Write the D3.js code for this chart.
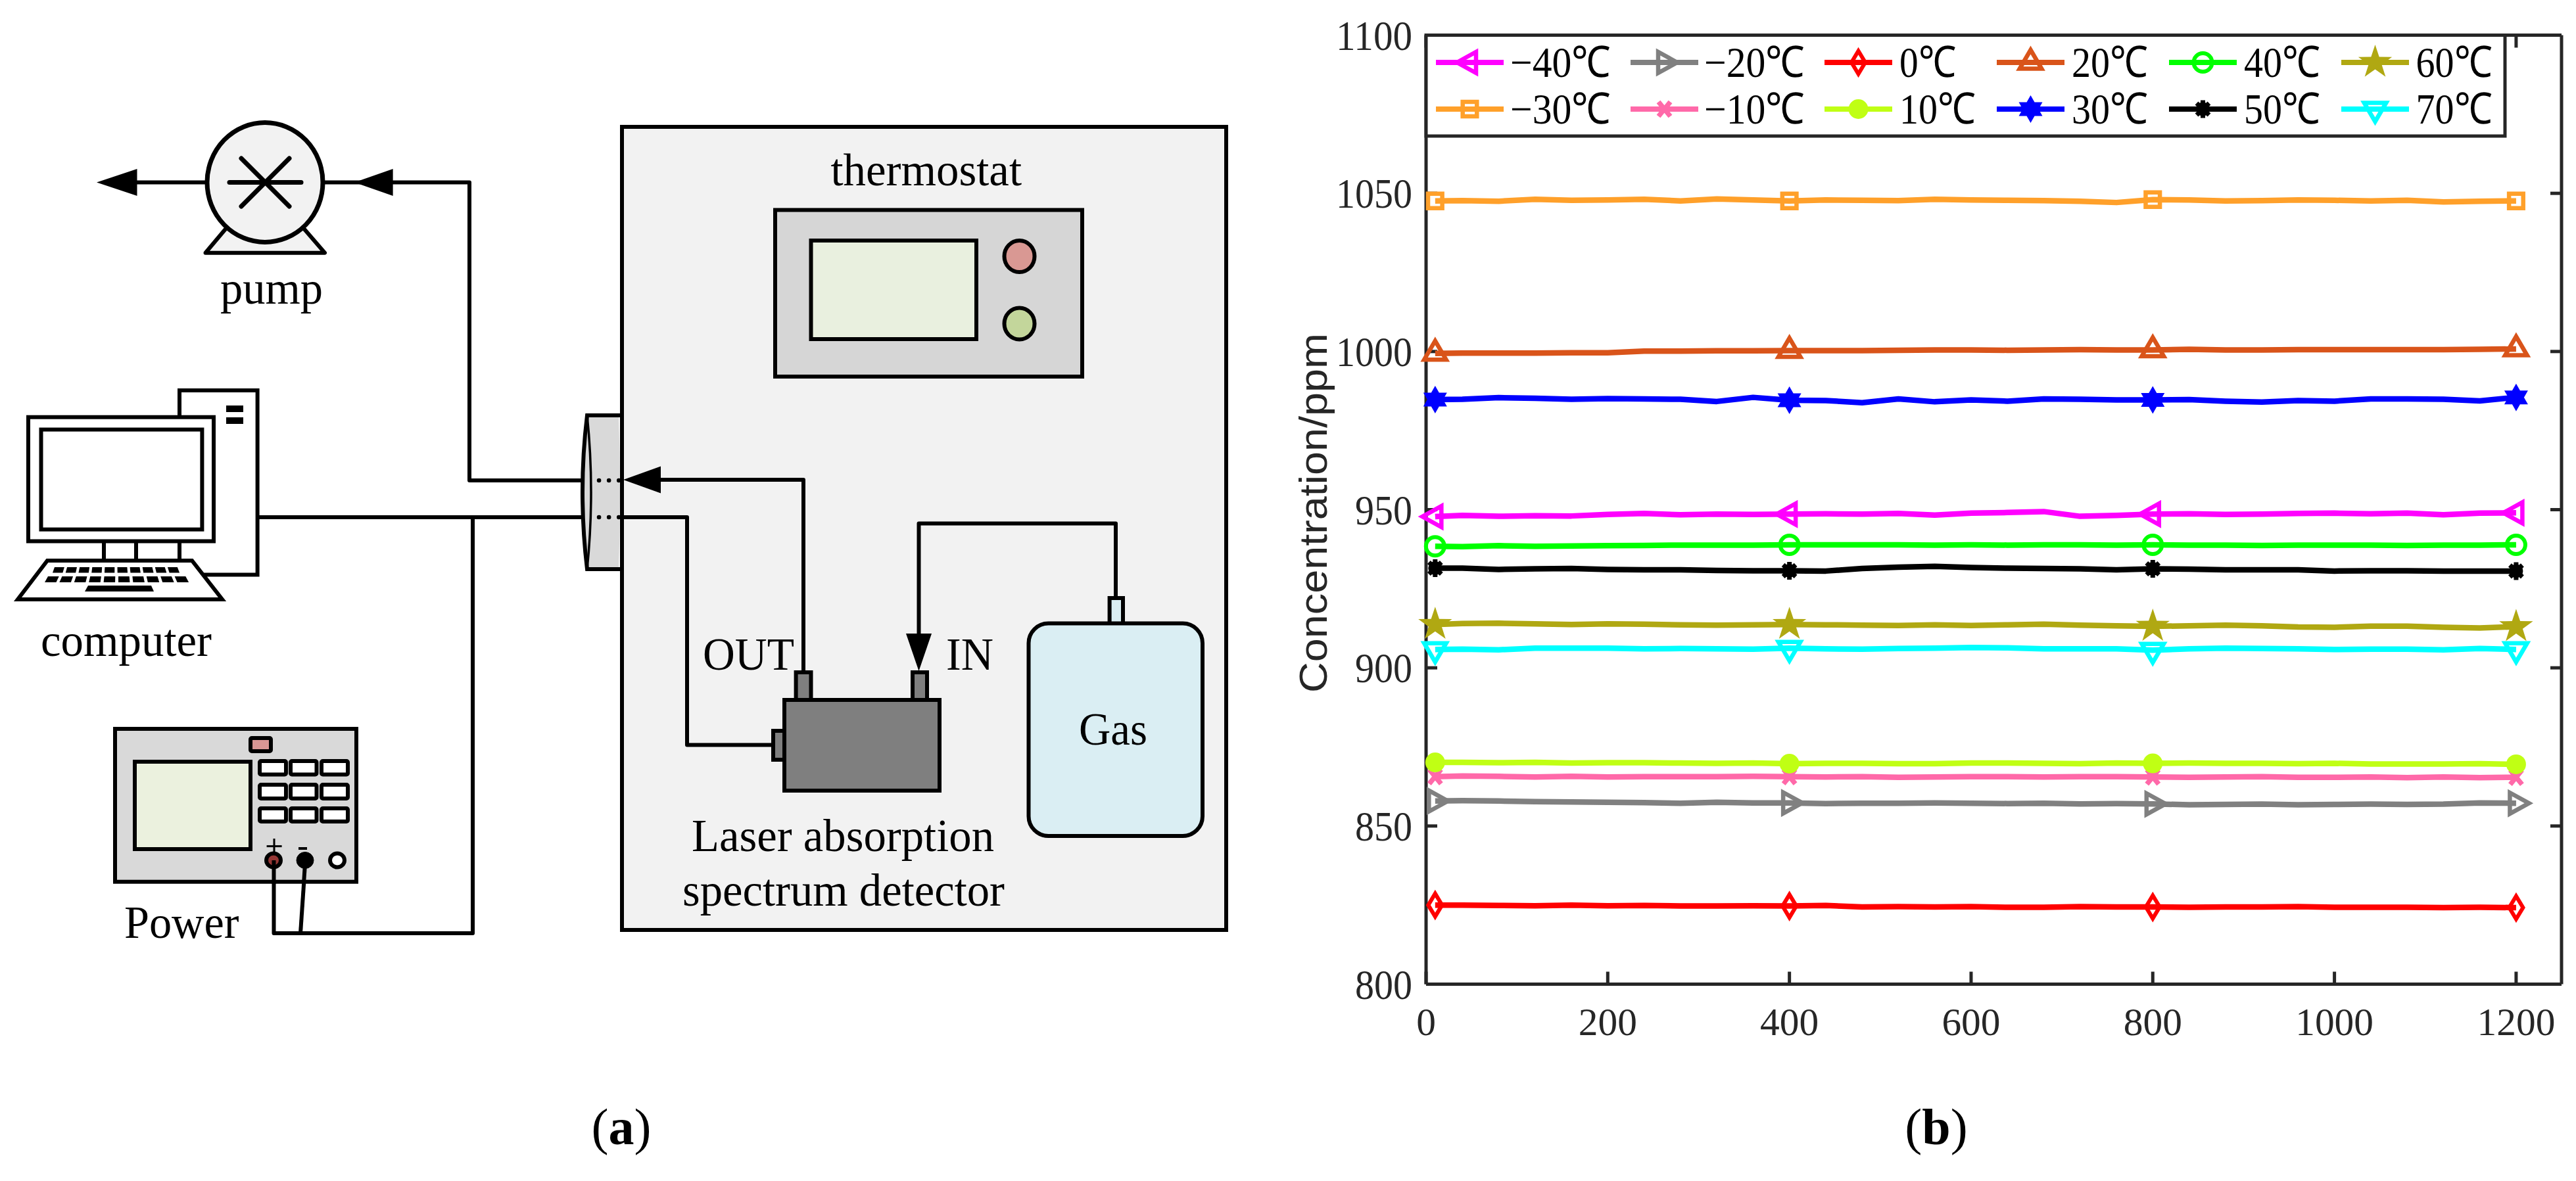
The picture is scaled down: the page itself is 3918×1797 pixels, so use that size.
<!DOCTYPE html>
<html><head><meta charset="utf-8">
<script src="https://cdn.jsdelivr.net/npm/d3@7/dist/d3.min.js"></script>
<style>html,body{margin:0;padding:0;background:#fff}svg{display:block}text{font-family:"Liberation Serif",serif}</style>
</head><body><svg id="c" width="3918" height="1797"></svg>
<script>
const times=[10,40,80,120,160,200,240,280,320,360,400,440,480,520,560,600,640,680,720,760,800,840,880,920,960,1000,1040,1080,1120,1160,1200];
const markerTimes=[10,400,800,1200];
const xTicks=[0,200,400,600,800,1000,1200];
const yTicks=[800,850,900,950,1000,1050,1100];
const labels=["−40℃","−30℃","−20℃","−10℃","0℃","10℃","20℃","30℃","40℃","50℃","60℃","70℃"];
const colors=["#ff00ff","#ffa02a","#808080","#ff69a9","#ff0000","#c0ff14","#d9541a","#0000ff","#00ff00","#000000","#b0a812","#00ffff"];
const markers=["left","square","right","cross","diamond","dot","up","hex","ring","aster","star","down"];
const sM40=[947.8,948.2,947.9,948.1,948.0,948.5,948.8,948.4,948.6,948.5,948.6,948.7,948.6,948.8,948.3,948.9,949.1,949.4,947.9,948.2,948.6,948.7,948.5,948.6,948.8,948.9,948.7,948.9,948.4,948.9,949.0];
const sM30=[1047.6,1047.7,1047.5,1048.1,1047.8,1047.9,1048.1,1047.6,1048.2,1047.9,1047.6,1047.9,1047.8,1047.7,1048.1,1047.9,1047.8,1047.7,1047.5,1047.1,1048.0,1047.9,1047.6,1047.7,1047.9,1047.8,1047.6,1047.8,1047.3,1047.5,1047.6];
const sM20=[857.9,858.0,857.9,857.7,857.6,857.5,857.4,857.2,857.5,857.3,857.3,857.1,857.2,857.2,857.3,857.2,857.1,857.2,857.0,857.1,857.0,856.7,856.8,856.9,856.7,856.8,856.9,856.8,856.9,857.3,857.2];
const sM10=[865.6,865.8,865.7,865.5,865.7,865.5,865.6,865.6,865.6,865.7,865.6,865.5,865.6,865.4,865.5,865.6,865.6,865.5,865.6,865.6,865.5,865.4,865.5,865.6,865.4,865.4,865.5,865.3,865.5,865.3,865.4];
const s0=[825.0,825.0,824.9,824.8,825.0,824.8,824.9,824.7,824.7,824.8,824.7,824.9,824.4,824.5,824.4,824.5,824.3,824.3,824.5,824.4,824.4,824.3,824.4,824.4,824.5,824.3,824.3,824.3,824.2,824.3,824.2];
const s10=[870.1,870.1,870.0,870.1,869.9,870.0,870.0,869.9,869.8,869.9,869.7,869.8,869.8,869.7,869.7,869.9,869.9,869.8,869.7,869.9,869.8,869.9,869.8,869.8,869.7,869.8,869.6,869.6,869.6,869.7,869.5];
const s20=[999.4,999.5,999.5,999.5,999.6,999.6,1000.1,1000.1,1000.2,1000.2,1000.3,1000.3,1000.3,1000.4,1000.5,1000.5,1000.4,1000.5,1000.6,1000.5,1000.5,1000.7,1000.5,1000.5,1000.6,1000.6,1000.6,1000.6,1000.6,1000.7,1000.8];
const s30=[984.8,984.9,985.4,985.2,984.9,985.1,985.0,984.9,984.2,985.5,984.6,984.5,983.8,985.0,984.1,984.7,984.3,985.0,984.9,984.7,984.7,984.8,984.3,984.0,984.5,984.3,985.0,985.0,984.9,984.4,985.5];
const s40=[938.4,938.3,938.6,938.4,938.5,938.6,938.7,938.8,938.8,938.8,938.9,938.9,938.9,938.9,938.8,938.9,938.8,938.9,938.9,938.8,938.9,938.8,938.8,938.7,938.8,938.8,938.8,938.7,938.8,938.8,938.9];
const s50=[931.5,931.5,931.1,931.3,931.4,931.1,931.0,931.0,930.8,930.7,930.7,930.6,931.4,931.8,932.1,931.7,931.5,931.4,931.3,931.0,931.3,931.2,931.0,931.0,931.0,930.6,930.7,930.7,930.6,930.6,930.6];
const s60=[913.7,914.0,914.1,913.9,913.7,913.9,913.8,913.6,913.5,913.6,913.7,913.6,913.5,913.4,913.6,913.4,913.6,913.8,913.5,913.3,913.1,913.3,913.5,913.3,912.9,912.8,913.2,913.2,912.8,912.6,913.0];
const s70=[905.8,905.9,905.7,906.2,906.2,906.2,906.0,906.1,906.0,905.9,906.2,906.0,905.9,906.1,906.2,906.4,906.3,906.0,906.0,906.0,905.6,906.0,906.2,906.1,906.0,905.8,905.9,905.9,905.7,906.1,905.8];
const seriesValues=[sM40,sM30,sM20,sM10,s0,s10,s20,s30,s40,s50,s60,s70];

const svg=d3.select("#c");
const ink="#000";
const W=6;
function rect(g,x0,y0,x1,y1,fill,r,sw){return g.append("rect").attr("x",x0).attr("y",y0).attr("width",x1-x0).attr("height",y1-y0).attr("rx",r||0).attr("fill",fill).attr("stroke",ink).attr("stroke-width",sw||W);}
function pl(g,pts,sw){return g.append("path").attr("d",d3.line()(pts)).attr("fill","none").attr("stroke",ink).attr("stroke-width",sw||W).attr("stroke-linejoin","round");}
function tri(g,pts){g.append("path").attr("d",d3.line()(pts)+"Z").attr("fill",ink);}
function ell(g,cx,cy,rx,ry,fill,sw){return g.append("ellipse").attr("cx",cx).attr("cy",cy).attr("rx",rx).attr("ry",ry).attr("fill",fill).attr("stroke",ink).attr("stroke-width",sw==null?W:sw);}
function txt(g,s,x,y,w,size){const t=g.append("text").attr("x",x).attr("y",y).attr("font-size",size||70).attr("fill","#000").text(s);if(w)t.attr("textLength",w).attr("lengthAdjust","spacingAndGlyphs");return t;}

/* ---------- panel (a) ---------- */
const a=svg.append("g");
// pump
a.append("path").attr("d","M312.5,384.7L347.6,343L458,343L494,384.7Z").attr("fill","#f2f2f2").attr("stroke",ink).attr("stroke-width",W).attr("stroke-linejoin","round");
ell(a,403,277.5,88,91,"#f2f2f2",7);
pl(a,[[349,277.5],[458,277.5]],7).attr("stroke-linecap","round");
pl(a,[[367,241],[440,314]],7).attr("stroke-linecap","round");
pl(a,[[440,241],[367,314]],7).attr("stroke-linecap","round");
pl(a,[[205,277.5],[315,277.5]]);
tri(a,[[147,277.5],[208.5,257],[208.5,298]]);
pl(a,[[491,277.5],[714,277.5],[714,731],[909,731]]);
tri(a,[[539,277.5],[597.6,257],[597.6,298]]);
txt(a,"pump",335,462,156);
// computer tower and monitor
rect(a,273,594,391.6,874.5,"#fff");
a.append("rect").attr("x",344).attr("y",617).attr("width",26).attr("height",10);
a.append("rect").attr("x",344).attr("y",635).attr("width",26).attr("height",10);
rect(a,43,634.7,325,823.5,"#fff");
rect(a,62.5,653.6,307.4,805.6,"#fff");
[158,207,273].forEach(x=>pl(a,[[x,823.5],[x,853]]));
a.append("path").attr("d","M72,853L292,853L338,912L27,912Z").attr("fill","#fff").attr("stroke",ink).attr("stroke-width",W).attr("stroke-linejoin","miter");
const keyRows=[[863,871.5,83,274,80,277.4],[877,886,73,287,68,292]];
keyRows.forEach(([y0,y1,t0,t1,b0,b1])=>{d3.range(10).forEach(i=>{const f=(o,l)=>o+(l-o)*i/10,g=(o,l)=>o+(l-o)*(i+.78)/10;
a.append("path").attr("d",`M${f(t0,t1)},${y0}L${g(t0,t1)},${y0}L${g(b0,b1)},${y1}L${f(b0,b1)},${y1}Z`).attr("fill",ink);});});
a.append("path").attr("d","M134,891L230,891L234,900L129,900Z").attr("fill",ink);
txt(a,"computer",62,997.5,260);
// cables from computer
pl(a,[[391,787],[909,787]]);
pl(a,[[719,787],[719,1420],[416.5,1420],[416.5,1309]]);
pl(a,[[457,1420],[463.6,1323]]);
// power
rect(a,175,1109,542,1341.7,"#d9d9d9");
rect(a,205,1159,381,1292,"#ebf1de");
rect(a,381,1123,412,1143,"#d99694",2);
[[395,435],[442,481.5],[489,529]].forEach(([x0,x1])=>[[1158,1178.5],[1194,1215],[1230,1250]].forEach(([y0,y1])=>rect(a,x0,y0,x1,y1,"#fff",2)));
ell(a,416,1309,11,10.5,"#953735");
ell(a,464,1309,13,12.5,ink,1);
ell(a,513,1309,11,10.5,"#fff");
pl(a,[[405.6,1287.6],[428.6,1287.6]],3);pl(a,[[417,1276],[417,1298]],3);
pl(a,[[454,1291],[467,1291]],4);
pl(a,[[416.5,1309],[416.5,1345]]);pl(a,[[463.6,1320],[462,1345]]);
txt(a,"Power",189,1426.5,174.5);
// flange
a.append("path").attr("d","M893,632L941,632Q945,748 941,866L893,866Q879,748 893,632Z").attr("fill","#d9d9d9");
a.append("path").attr("d","M946,632L893,632Q879,748 893,866L946,866").attr("fill","none").attr("stroke",ink).attr("stroke-width",W);
a.append("path").attr("d","M893,632Q905,748 893,866").attr("fill","none").attr("stroke",ink).attr("stroke-width",3.5);
[731,787].forEach(y=>a.append("line").attr("x1",911).attr("x2",946).attr("y1",y).attr("y2",y).attr("stroke",ink).attr("stroke-width",6.5).attr("stroke-linecap","round").attr("stroke-dasharray","0.1 15"));
// thermostat
rect(a,946,193,1865,1415,"#f2f2f2");
rect(a,1179,319.5,1646,573,"#d6d6d6");
rect(a,1233.5,366,1485,516,"#e9f0df");
ell(a,1550.5,390,23,24,"#d99893");
ell(a,1550.5,492.5,23,24,"#c3d69b");
txt(a,"thermostat",1263.5,282,290.5);
// inner lines
pl(a,[[1000,730],[1222,730],[1222,1023]]);
tri(a,[[948,730],[1005,709.5],[1005,750.5]]);
pl(a,[[946,787],[1045,787],[1045,1133.4],[1176,1133.4]]);
pl(a,[[1697,910],[1697,796.5],[1397.5,796.5],[1397.5,970]]);
tri(a,[[1397.5,1021],[1378,964],[1417,964]]);
// detector
rect(a,1210.6,1023,1233.5,1065,"#7f7f7f");
rect(a,1388,1023,1410,1065,"#7f7f7f");
rect(a,1176,1112,1193,1156,"#7f7f7f");
rect(a,1193,1065,1429,1203,"#7f7f7f");
txt(a,"OUT",1069,1019,139);
txt(a,"IN",1439,1019,72);
txt(a,"Laser absorption",1052,1295,460);
txt(a,"spectrum detector",1038,1378,490);
// gas
rect(a,1687.6,910,1708,949,"#daeef3");
rect(a,1564.5,948.6,1829,1272,"#daeef3",30);
txt(a,"Gas",1641,1133,104);
// captions
const capA=a.append("text").attr("x",945).attr("y",1741).attr("text-anchor","middle").attr("font-size",78);
capA.append("tspan").text("(");capA.append("tspan").attr("font-weight","bold").text("a");capA.append("tspan").text(")");
const capB=a.append("text").attr("x",2945).attr("y",1741).attr("text-anchor","middle").attr("font-size",78);
capB.append("tspan").text("(");capB.append("tspan").attr("font-weight","bold").text("b");capB.append("tspan").text(")");

/* ---------- panel (b) ---------- */
const xS=d3.scaleLinear([0,1250],[2169,3896]);
const yS=d3.scaleLinear([800,1100],[1497.5,53.5]);
const axisColor="#262626";
const p=svg.append("g");
function styleAxis(g){g.selectAll("path.domain,line").attr("stroke",axisColor).attr("stroke-width",5);
 g.selectAll("text").attr("fill",axisColor).attr("font-family",'"Liberation Serif",serif');g.attr("font-family",null).attr("font-size",null);}
const axB=p.append("g").attr("transform",`translate(0,${yS(800)})`).call(d3.axisBottom(xS).tickValues(xTicks).tickFormat(d3.format("d")).tickSize(-19).tickSizeOuter(0).tickPadding(35).offset(0));
const axL=p.append("g").attr("transform",`translate(${xS(0)},0)`).call(d3.axisLeft(yS).tickValues(yTicks).tickFormat(d3.format("d")).tickSize(-17).tickSizeOuter(0).tickPadding(21).offset(0));
const axT=p.append("g").attr("transform",`translate(0,${yS(1100)})`).call(d3.axisTop(xS).tickValues(xTicks).tickFormat("").tickSize(-19).tickSizeOuter(0).offset(0));
const axR=p.append("g").attr("transform",`translate(${xS(1250)},0)`).call(d3.axisRight(yS).tickValues(yTicks).tickFormat("").tickSize(-17).tickSizeOuter(0).offset(0));
[axB,axL,axT,axR].forEach(g=>styleAxis(g));
axL.selectAll("text").attr("dy","0.345em").attr("font-size",64).attr("lengthAdjust","spacingAndGlyphs").attr("textLength",d=>String(d).length*29);
axB.selectAll("text").attr("font-size",60).attr("lengthAdjust","spacingAndGlyphs").attr("textLength",d=>String(d).length*29.7);
p.append("text").attr("transform","translate(2018,1054) rotate(-90)").attr("font-size",60).attr("fill",axisColor)
 .style("font-family",'"Liberation Sans",sans-serif').attr("textLength",547).attr("lengthAdjust","spacingAndGlyphs").text("Concentration/ppm");

// custom d3 symbols for the MATLAB-like markers
const shapes={
 up:{sw:6.5,fill:false,draw(c){c.moveTo(0,-19);c.lineTo(16.7,9.5);c.lineTo(-16.7,9.5);c.closePath();}},
 down:{sw:6.5,fill:false,draw(c){c.moveTo(0,19);c.lineTo(16.7,-9.5);c.lineTo(-16.7,-9.5);c.closePath();}},
 left:{sw:6.5,fill:false,draw(c){c.moveTo(-19.5,0);c.lineTo(9.5,-16);c.lineTo(9.5,16);c.closePath();}},
 right:{sw:6.5,fill:false,draw(c){c.moveTo(19.5,0);c.lineTo(-9.5,-16);c.lineTo(-9.5,16);c.closePath();}},
 diamond:{sw:6,fill:false,draw(c){c.moveTo(0,-17.5);c.lineTo(10.5,0);c.lineTo(0,17.5);c.lineTo(-10.5,0);c.closePath();}},
 square:{sw:6.5,fill:false,draw(c){c.moveTo(-10.8,-11);c.lineTo(10.8,-11);c.lineTo(10.8,11);c.lineTo(-10.8,11);c.closePath();}},
 ring:{sw:6,fill:false,draw(c){c.moveTo(14,0);c.arc(0,0,14,0,2*Math.PI);}},
 dot:{sw:0,fill:true,draw(c){c.moveTo(15,0);c.arc(0,0,15,0,2*Math.PI);}},
 hex:{sw:0,fill:true,draw(c){c.moveTo(0,-21);c.lineTo(18,10.5);c.lineTo(-18,10.5);c.closePath();c.moveTo(0,21);c.lineTo(-18,-10.5);c.lineTo(18,-10.5);c.closePath();}},
 star:{sw:0,fill:true,draw(c){d3.range(10).forEach(i=>{const r=i%2?10.5:27,a=i*Math.PI/5;const X=r*Math.sin(a),Y=-r*Math.cos(a);i?c.lineTo(X,Y):c.moveTo(X,Y);});c.closePath();}},
 cross:{sw:7.5,fill:false,draw(c){c.moveTo(-9,-11);c.lineTo(9,11);c.moveTo(9,-11);c.lineTo(-9,11);}},
 aster:{sw:7,fill:true,draw(c){c.moveTo(0,-13.5);c.lineTo(0,13.5);c.moveTo(-9.5,-9);c.lineTo(9.5,9);c.moveTo(9.5,-9);c.lineTo(-9.5,9);c.moveTo(7,0);c.arc(0,0,7,0,2*Math.PI);}}
};
function drawMarker(g,name,color,x,y){const s=shapes[name];
 g.append("path").attr("d",d3.symbol(s)()).attr("transform",`translate(${x},${y})`)
  .attr("fill",s.fill?color:"none").attr("stroke",s.sw?color:"none").attr("stroke-width",s.sw).attr("stroke-linejoin","miter").attr("stroke-miterlimit",12);}

const line=d3.line().x((d,i)=>xS(times[i])).y(d=>yS(d)).curve(d3.curveLinear);
const plot=p.append("g");
seriesValues.forEach((vals,k)=>{
 plot.append("path").attr("d",line(vals)).attr("fill","none").attr("stroke",colors[k]).attr("stroke-width",8.5).attr("stroke-linejoin","round");
 markerTimes.forEach(t=>drawMarker(plot,markers[k],colors[k],xS(t),yS(vals[times.indexOf(t)])));
});

// legend
const lg=p.append("g");
lg.append("rect").attr("x",2169).attr("y",53.5).attr("width",3810-2169).attr("height",207-53.5).attr("fill","#fff").attr("stroke",axisColor).attr("stroke-width",5);
const colSample=[2184,2480,2775,3037,3299,3561];
const colText=[2297,2592,2889,3151,3413,3674.5];
const rowLine=[95,166], rowBase=[116.7,188];
labels.forEach((s,k)=>{const col=Math.floor(k/2),row=k%2,x0=colSample[col],y=rowLine[row];
 lg.append("line").attr("x1",x0).attr("x2",x0+103).attr("y1",y).attr("y2",y).attr("stroke",colors[k]).attr("stroke-width",8);
 drawMarker(lg,markers[k],colors[k],x0+51.5,y);
 const w=s.startsWith("−")?153:(s==="0℃"?86:116);
 lg.append("text").attr("x",colText[col]).attr("y",rowBase[row]).attr("font-size",66).attr("fill","#000").attr("textLength",w).attr("lengthAdjust","spacingAndGlyphs").text(s);
});
</script></body></html>
